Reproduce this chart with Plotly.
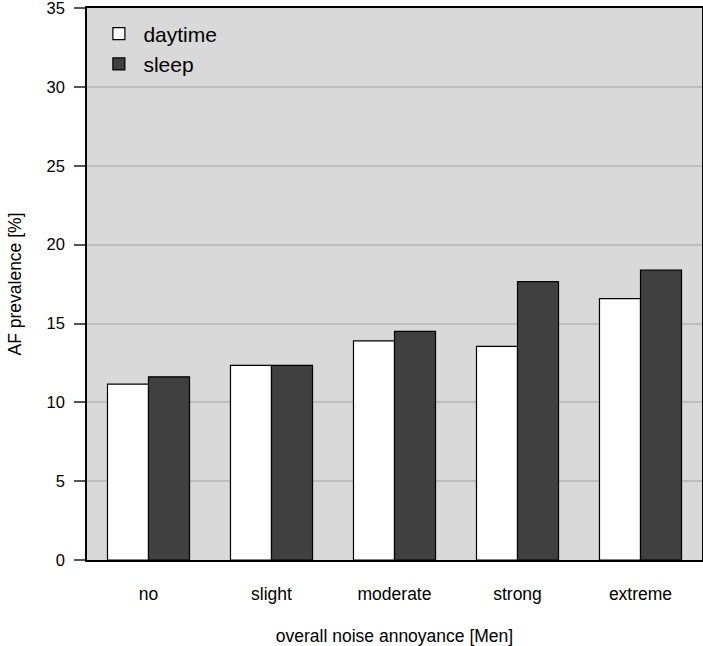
import plotly.graph_objects as go

categories = ["no", "slight", "moderate", "strong", "extreme"]
daytime = [11.16, 12.34, 13.90, 13.55, 16.58]
sleep = [11.62, 12.34, 14.50, 17.66, 18.38]
y_ticks = [0, 5, 10, 15, 20, 25, 30, 35]

FONT = "Liberation Sans, Arial, Helvetica, sans-serif"

fig = go.Figure()
fig.add_trace(go.Bar(x=categories, y=daytime, name="daytime",
                     marker=dict(color="#ffffff", line=dict(color="#000000", width=1.2))))
fig.add_trace(go.Bar(x=categories, y=sleep, name="sleep",
                     marker=dict(color="#404040", line=dict(color="#000000", width=1.2))))

fig.update_layout(
    width=703, height=646,
    margin=dict(l=87, r=1, t=8, b=86),
    paper_bgcolor="#ffffff",
    plot_bgcolor="#d9d9d9",
    barmode="group",
    bargap=0.333,
    bargroupgap=0,
    font=dict(family=FONT, size=17.5, color="#000000"),
    showlegend=True,
    legend=dict(x=0.012, y=0.99, xanchor="left", yanchor="top", itemwidth=39,
                bgcolor="rgba(0,0,0,0)", font=dict(size=21), tracegroupgap=0),
    xaxis=dict(
        showline=True, linecolor="#000000", linewidth=1.5, mirror=True,
        ticks="", ticklabelstandoff=17,
        title=dict(text="overall noise annoyance [Men]", standoff=28,
                   font=dict(size=17.5)),
        showgrid=False, automargin=False,
    ),
    yaxis=dict(
        range=[0, 35.01], tickvals=y_ticks,
        showline=True, linecolor="#000000", linewidth=1.5, mirror=True,
        ticks="outside", ticklen=11, tickwidth=2, tickcolor="#555555",
        ticklabelstandoff=6, ticklabeloverflow="allow",
        tickfont=dict(size=16.5),
        gridcolor="#bdbdbd", gridwidth=1.5,
        zeroline=False,
        title=dict(text="AF prevalence [%]", standoff=20, font=dict(size=17.5)),
        automargin=False,
    ),
)

fig.write_html("out.html", config={"displayModeBar": False},
               post_script="document.body.style.margin='0';")
